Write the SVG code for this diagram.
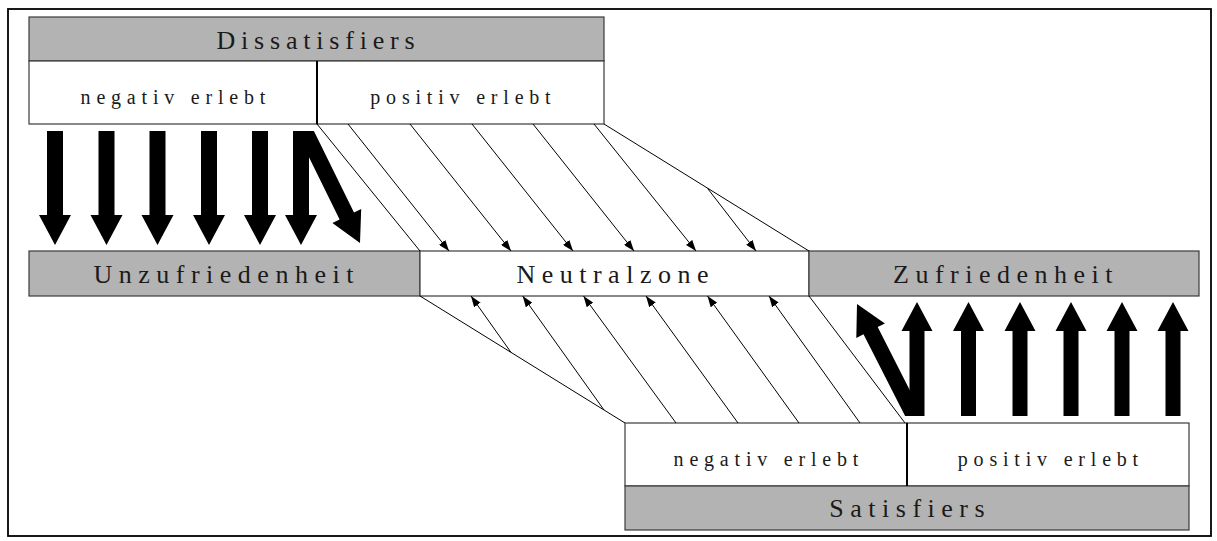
<svg xmlns="http://www.w3.org/2000/svg" width="1217" height="541" viewBox="0 0 1217 541">
  <style>
    .frame { fill: #fff; stroke: #000; stroke-width: 1.8; }
    .hdr { fill: #b3b3b3; stroke: #3a3a3a; stroke-width: 1.2; }
    .cell { fill: #fff; stroke: #3a3a3a; stroke-width: 1.2; }
    .split { stroke: #000; stroke-width: 2; }
    .lbl { font-family: "Liberation Serif", "Times New Roman", serif; fill: #1a1a1a; text-anchor: middle; }
    .big { font-size: 26px; letter-spacing: 6.5px; }
    .small { font-size: 20px; letter-spacing: 5.8px; }
    .thin { stroke: #000; stroke-width: 1; fill: none; }
    .tip { marker-end: url(#head); }
    .fat { fill: #000; }
  </style>
  <defs>
    <marker id="head" markerUnits="userSpaceOnUse" viewBox="0 0 11 8" markerWidth="11" markerHeight="8" refX="11" refY="4" orient="auto">
      <path d="M0,0 L11,4 L0,8 Z" fill="#000"/>
    </marker>
    <!-- heavy block arrows, drawn from the origin -->
    <path id="down" d="M-8,0 H8 V84 H16 L0,114 L-16,84 H-8 Z"/>
    <path id="up" d="M-7.5,0 H7.5 V-85 H15.5 L0,-114 L-15.5,-85 H-7.5 Z"/>
  </defs>

  <rect class="frame" x="8" y="9" width="1203" height="527"/>

  <g id="dissatisfiers">
    <rect class="hdr" x="29" y="17" width="575" height="44"/>
    <rect class="cell" x="29" y="61" width="288" height="63"/>
    <rect class="cell" x="317" y="61" width="287" height="63"/>
    <line class="split" x1="317" y1="61" x2="317" y2="124"/>
    <text class="lbl big" x="318.5" y="49" style="letter-spacing:5.8px">Dissatisfiers</text>
    <text class="lbl small" x="175.9" y="104">negativ erlebt</text>
    <text class="lbl small" x="463.4" y="104">positiv erlebt</text>
  </g>

  <g id="unzufriedenheit">
    <rect class="hdr" x="29" y="251" width="391" height="45"/>
    <text class="lbl big" x="226.7" y="283">Unzufriedenheit</text>
  </g>

  <g id="neutralzone">
    <rect class="cell" x="420" y="251" width="389" height="45"/>
    <text class="lbl big" x="615.7" y="283">Neutralzone</text>
  </g>

  <g id="zufriedenheit">
    <rect class="hdr" x="809" y="251" width="390" height="45"/>
    <text class="lbl big" x="1006" y="283">Zufriedenheit</text>
  </g>

  <g id="satisfiers">
    <rect class="cell" x="625" y="423" width="282" height="63"/>
    <rect class="cell" x="907" y="423" width="282" height="63"/>
    <rect class="hdr" x="625" y="486" width="564" height="44"/>
    <line class="split" x1="907" y1="423" x2="907" y2="486"/>
    <text class="lbl small" x="768.9" y="466">negativ erlebt</text>
    <text class="lbl small" x="1050.9" y="466">positiv erlebt</text>
    <text class="lbl big" x="910.2" y="517">Satisfiers</text>
  </g>

  <g id="connectors">
    <!-- heavy arrows: negatively experienced dissatisfiers lead to dissatisfaction -->
    <g class="fat">
      <use href="#down" transform="translate(55,131)"/>
      <use href="#down" transform="translate(106.5,131)"/>
      <use href="#down" transform="translate(157.5,131)"/>
      <use href="#down" transform="translate(209,131)"/>
      <use href="#down" transform="translate(260,131)"/>
      <use href="#down" transform="translate(301,131)"/>
      <polygon points="296.1,131 313.9,131 354,212.6 361.2,209.1 360,243 332.4,223.1 339.6,219.6"/>
    </g>
    <!-- heavy arrows: positively experienced satisfiers lead to satisfaction -->
    <g class="fat">
      <use href="#up" transform="translate(917,416)"/>
      <use href="#up" transform="translate(968.5,416)"/>
      <use href="#up" transform="translate(1020,416)"/>
      <use href="#up" transform="translate(1071,416)"/>
      <use href="#up" transform="translate(1122,416)"/>
      <use href="#up" transform="translate(1173,416)"/>
      <polygon points="905.1,416 922.9,416 877.7,327.1 884.9,323.4 857,304 856.3,338 863.5,334.3"/>
    </g>

    <!-- thin arrows from the upper block into the neutral zone -->
    <line class="thin" x1="317" y1="124" x2="420" y2="251"/>
    <line class="thin tip" x1="348" y1="124" x2="449" y2="251"/>
    <line class="thin tip" x1="410" y1="124" x2="511" y2="251"/>
    <line class="thin tip" x1="472" y1="124" x2="573" y2="251"/>
    <line class="thin tip" x1="533" y1="124" x2="634" y2="251"/>
    <line class="thin tip" x1="594" y1="124" x2="696" y2="251"/>
    <line class="thin" x1="604" y1="124" x2="809" y2="251"/>
    <line class="thin tip" x1="707.5" y1="188.3" x2="756" y2="251"/>

    <!-- thin arrows from the lower block into the neutral zone -->
    <line class="thin" x1="420" y1="296" x2="625" y2="423"/>
    <line class="thin tip" x1="511" y1="352.4" x2="471" y2="296"/>
    <line class="thin tip" x1="604" y1="410" x2="522.7" y2="296"/>
    <line class="thin tip" x1="676" y1="423" x2="583.5" y2="296"/>
    <line class="thin tip" x1="738" y1="423" x2="646" y2="296"/>
    <line class="thin tip" x1="799" y1="423" x2="707.5" y2="296"/>
    <line class="thin tip" x1="860" y1="423" x2="769" y2="296"/>
    <line class="thin" x1="809" y1="296" x2="905" y2="423"/>
  </g>
</svg>
